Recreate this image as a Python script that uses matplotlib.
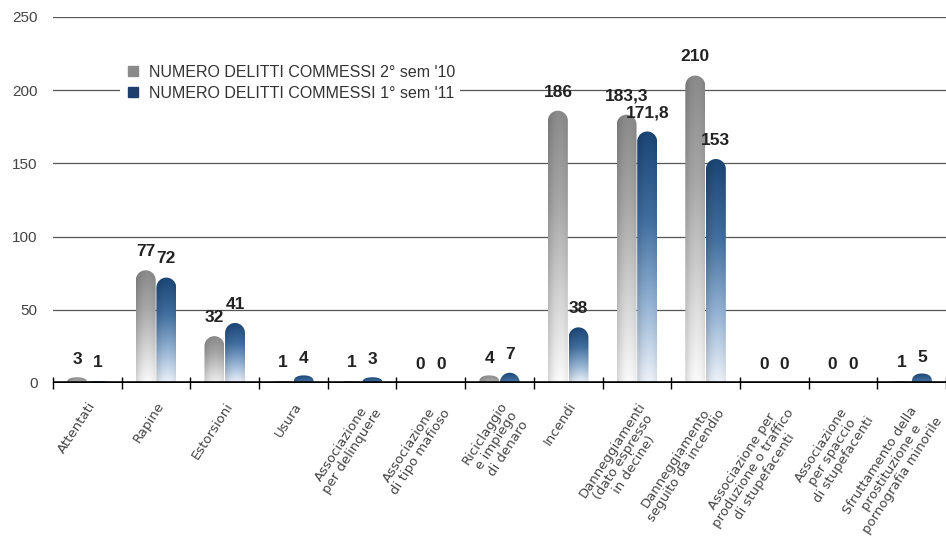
import numpy as np
import matplotlib
matplotlib.use("Agg")
import matplotlib.pyplot as plt
from matplotlib.colors import LinearSegmentedColormap
from matplotlib.patches import Polygon
from matplotlib.lines import Line2D

plt.rcParams['font.family'] = ['Liberation Sans', 'DejaVu Sans']

categories = [
    "Attentati", "Rapine", "Estorsioni", "Usura",
    "Associazione\nper delinquere", "Associazione\ndi tipo mafioso",
    "Riciclaggio\ne impiego\ndi denaro", "Incendi",
    "Danneggiamenti\n(dato espresso\nin decine)",
    "Danneggiamento\nseguito da incendio",
    "Associazione per\nproduzione o traffico\ndi stupefacenti",
    "Associazione\nper spaccio\ndi stupefacenti",
    "Sfruttamento della\nprostituzione e\npornografia minorile",
]
series_names = ["NUMERO DELITTI COMMESSI 2° sem '10",
                "NUMERO DELITTI COMMESSI 1° sem '11"]
sem2_2010 = [3, 77, 32, 1, 1, 0, 4, 186, 183.3, 210, 0, 0, 1]
sem1_2011 = [1, 72, 41, 4, 3, 0, 7, 38, 171.8, 153, 0, 0, 5]
yticks = [0, 50, 100, 150, 200, 250]

W, H = 946, 544
fig = plt.figure(figsize=(W / 100, H / 100), dpi=100)
ax_left, ax_bottom = 53 / W, 161 / H
ax_w, ax_h = 1 - ax_left, (527 - 161) / H
ax = fig.add_axes([ax_left, ax_bottom, ax_w, ax_h])

n = len(categories)
xlim = (-0.5, -0.5 + (W - 53) / 70.0)
ylim = (0, 250)

kx = ax_w * W / (xlim[1] - xlim[0])   # px per x unit
ky = ax_h * H / (ylim[1] - ylim[0])   # px per y unit

gray_cmap = LinearSegmentedColormap.from_list(
    "g", [(0, "#fbfbfb"), (0.3, "#d6d6d6"), (0.65, "#a9a9a9"), (1, "#8a8a8a")])
blue_cmap = LinearSegmentedColormap.from_list(
    "b", [(0, "#eef3fa"), (0.3, "#98b6d6"), (0.65, "#416fa0"), (1, "#1b4574")])

bw = 0.29
offsets = [-0.15, 0.15]


def rounded_bar(xc, h, cmap):
    if h <= 0:
        return
    x0, x1 = xc - bw / 2, xc + bw / 2
    rx = bw / 2
    ry = min(rx * kx / ky, h * 1.2)
    top = max(h, ry)
    th = np.linspace(np.pi, 0, 40)
    arc_x = xc + rx * np.cos(th)
    arc_y = top - ry + ry * np.sin(th)
    if h < ry:
        arc_y = h * 1.3 * np.sin(th) ** 0.6
    xs = np.concatenate([[x0], arc_x, [x1]])
    ys = np.concatenate([[0], arc_y, [0]])
    poly = Polygon(np.column_stack([xs, ys]), closed=True,
                   facecolor="none", edgecolor="none")
    ax.add_patch(poly)
    rows = 200
    lo = float(np.clip(1 - h / 35.0, 0, 0.55))
    t = np.linspace(lo, 1, rows)[:, None]
    cols = 24
    u = np.linspace(-1, 1, cols)[None, :]
    rgb = cmap(np.repeat(t, cols, axis=1))[..., :3]
    shade = 1 - 0.10 * (np.abs(u - 0.2) ** 2)
    rgb = rgb * shade[..., None]
    im = ax.imshow(rgb, extent=[x0, x1, 0, max(arc_y.max(), 0.1)],
                   origin="lower", aspect="auto", zorder=3,
                   interpolation="bilinear")
    im.set_clip_path(poly)


def fmt(v):
    return ("%g" % v).replace(".", ",")


x = np.arange(n)
for vals, off, cmap in [(sem2_2010, offsets[0], gray_cmap),
                        (sem1_2011, offsets[1], blue_cmap)]:
    for i, v in enumerate(vals):
        rounded_bar(i + off, v, cmap)
        ax.annotate(fmt(v), (i + off, v), xytext=(0, 8),
                    textcoords="offset points", ha="center", va="bottom",
                    fontsize=12.5, fontweight="bold", color="#222222",
                    zorder=6)

for yv in yticks[1:]:
    ax.axhline(yv, color="#555555", lw=0.9, zorder=1)
ax.axhline(0, color="black", lw=2.6, zorder=5)

ax.set_xlim(*xlim)
ax.set_ylim(*ylim)
for s in ax.spines.values():
    s.set_visible(False)

ax.set_yticks(yticks)
ax.set_yticklabels([str(v) for v in yticks], fontsize=11, color="#444444")
ax.tick_params(axis="y", length=0, pad=11)

ax.set_xticks(x)
ax.set_xticks(np.arange(n + 1) - 0.5, minor=True)
ax.tick_params(axis="x", which="major", length=0, pad=12)
ax.tick_params(axis="x", which="minor", length=9, width=1,
               direction="inout", color="black")
ax.set_xticklabels(categories, rotation=57, ha="right", va="top",
                   rotation_mode="anchor", fontsize=9.5, color="#444444",
                   multialignment="center", linespacing=1.05,
                   family=["DejaVu Sans"])

handles = [Line2D([], [], marker="s", ls="none", color="#8a8a8a", ms=6.5),
           Line2D([], [], marker="s", ls="none", color="#1d3e6e", ms=6.5)]
leg = ax.legend(handles, series_names, loc="upper left",
                bbox_to_anchor=(112 / W, 1 - 52 / H),
                bbox_transform=fig.transFigure, frameon=True,
                facecolor="white", edgecolor="none", framealpha=1,
                fontsize=11.5, handlelength=1.0, handletextpad=0.5,
                labelspacing=0.36, borderpad=0.3, fancybox=False)
leg.set_zorder(7)
for t in leg.get_texts():
    t.set_color("#333333")

fig.savefig("out.png", dpi=100, facecolor="white")
